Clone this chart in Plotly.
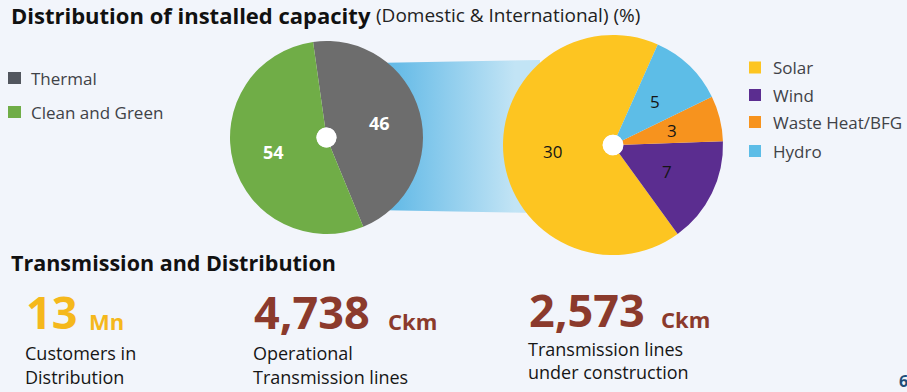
import math
import plotly.graph_objects as go

# ---------------- data ----------------
mix_labels = ["Thermal", "Clean and Green"]
mix_values = [46, 54]
mix_colors = ["#6d6d6d", "#70ad47"]
mix_legend_colors = ["#52565e", "#70ad47"]

green_labels = ["Solar", "Wind", "Waste Heat/BFG", "Hydro"]
green_values = [30, 7, 3, 5]
green_colors = ["#fdc521", "#5b2d90", "#f7931e", "#5dbde7"]

kpi_values = ["13", "4,738", "2,573"]
kpi_units = ["Mn", "Ckm", "Ckm"]
kpi_colors = ["#f5b81c", "#8b3a2c", "#8b3a2c"]
kpi_desc = [["Customers in", "Distribution"],
            ["Operational", "Transmission lines"],
            ["Transmission lines", "under construction"]]

W, H = 907, 392
BG = "#f2f5fb"
FONT = "Open Sans"

# pie geometry (pixels): centre x, centre y, radius
LEFT = (326.5, 137.5, 96.5)
RIGHT = (613.0, 145.0, 110.0)
LEFT_ROT, RIGHT_ROT = -8, 144


def domain(geom):
    cx, cy, r = geom
    return dict(x=[(cx - r) / W, (cx + r) / W], y=[1 - (cy + r) / H, 1 - (cy - r) / H])


def label_positions(values, rotation, direction, geom, frac):
    """Mid-angle label points, following plotly's pie angle convention."""
    cx, cy, r = geom
    tot = float(sum(values))
    ang = [360.0 * v / tot for v in values]
    out = []
    cum = 0.0
    for i, a in enumerate(ang):
        if direction == "clockwise":
            mid = rotation + cum + a / 2
        else:
            mid = rotation + ang[0] - cum - a / 2
        cum += a
        t = math.radians(mid)
        out.append((cx + frac * r * math.sin(t), cy - frac * r * math.cos(t)))
    return out


fig = go.Figure()

# connector band with horizontal gradient (pixel coordinates on hidden axes)
fig.add_trace(go.Scatter(
    x=[372, 540, 540, 372], y=[63, 60, 213, 210],
    mode="lines", fill="toself", line=dict(width=0),
    fillgradient=dict(type="horizontal", start=395, stop=515,
                      colorscale=[[0, "#66bbe7"], [1, "#c2e4f5"]]),
    hoverinfo="skip", showlegend=False))

# left pie
fig.add_trace(go.Pie(
    labels=mix_labels, values=mix_values, sort=False, direction="clockwise",
    rotation=LEFT_ROT, hole=0.104,
    marker=dict(colors=mix_colors, line=dict(width=0)),
    textinfo="none", domain=domain(LEFT),
    showlegend=False, hoverinfo="label+value"))

# right pie
fig.add_trace(go.Pie(
    labels=green_labels, values=green_values, sort=False, direction="counterclockwise",
    rotation=RIGHT_ROT, hole=0.094,
    marker=dict(colors=green_colors, line=dict(width=0)),
    textinfo="none", domain=domain(RIGHT),
    showlegend=False, hoverinfo="label+value"))

shapes = []
annos = []

# white hole discs
for cx, cy, r in [(LEFT[0], LEFT[1], 10), (RIGHT[0], RIGHT[1], 10.3)]:
    shapes.append(dict(type="circle", xref="x", yref="y", x0=cx - r, x1=cx + r,
                       y0=cy - r, y1=cy + r, fillcolor="white",
                       line=dict(width=0), layer="above"))


def text(x, y, s, size, color, weight="normal", xanchor="left", yanchor="middle", yshift=0):
    annos.append(dict(x=x, y=y, xref="x", yref="y", text=s, showarrow=False,
                      xanchor=xanchor, yanchor=yanchor, yshift=yshift,
                      font=dict(family=FONT, size=size, color=color, weight=weight)))


# slice value labels
for (x, y), v in zip(label_positions(mix_values, LEFT_ROT, "clockwise", LEFT, 0.57), mix_values):
    text(x, y, str(v), 18, "white", "bold", xanchor="center")
for (x, y), v in zip(label_positions(green_values, RIGHT_ROT, "counterclockwise", RIGHT, 0.55),
                     green_values):
    text(x, y, str(v), 17, "#151515", xanchor="center")

# titles
text(9, 0, "Distribution of installed capacity", 22, "#111111", "bold", yanchor="top", yshift=2)
text(374, 0, "(Domestic &amp; International) (%)", 19, "#222222", yanchor="top")
text(9, 262, "Transmission and Distribution", 21.5, "#111111", "bold")

# left legend
for i, (lab, col) in enumerate(zip(mix_labels, mix_legend_colors)):
    cy = 78 + i * 34
    shapes.append(dict(type="rect", xref="x", yref="y", x0=8, x1=21, y0=cy - 6,
                       y1=cy + 6, fillcolor=col, line=dict(width=0)))
    text(29, cy, lab, 17, "#3f4247")

# right legend
for i, (lab, col) in enumerate(zip(green_labels, green_colors)):
    cy = [67.5, 95, 122, 151][i]
    shapes.append(dict(type="rect", xref="x", yref="y", x0=749, x1=761, y0=cy - 6,
                       y1=cy + 6, fillcolor=col, line=dict(width=0)))
    text(771, cy, lab, 17, "#3f4247")

# KPIs
kpi_x = [24, 252, 527]
unit_x = [87, 386, 659]
num_y = [311, 311, 309]
desc_y = [(353, 377), (353, 377), (349, 372)]
for i in range(3):
    text(kpi_x[i], num_y[i], kpi_values[i], 45, kpi_colors[i], "bold")
    text(unit_x[i], num_y[i] + 10, kpi_units[i], 22, kpi_colors[i], "bold")
    for j, line in enumerate(kpi_desc[i]):
        text(kpi_x[i] - 1, desc_y[i][j], line, 18, "#161616")

# page number
text(903, 381, "6", 16, "#1f4e79", "bold", xanchor="center")

fig.update_layout(
    width=W, height=H, margin=dict(l=0, r=0, t=0, b=0),
    paper_bgcolor=BG, plot_bgcolor=BG,
    xaxis=dict(range=[0, W], visible=False, fixedrange=True, domain=[0, 1]),
    yaxis=dict(range=[H, 0], visible=False, fixedrange=True, domain=[0, 1]),
    shapes=shapes, annotations=annos, showlegend=False,
)

fig.write_html("out.html")
